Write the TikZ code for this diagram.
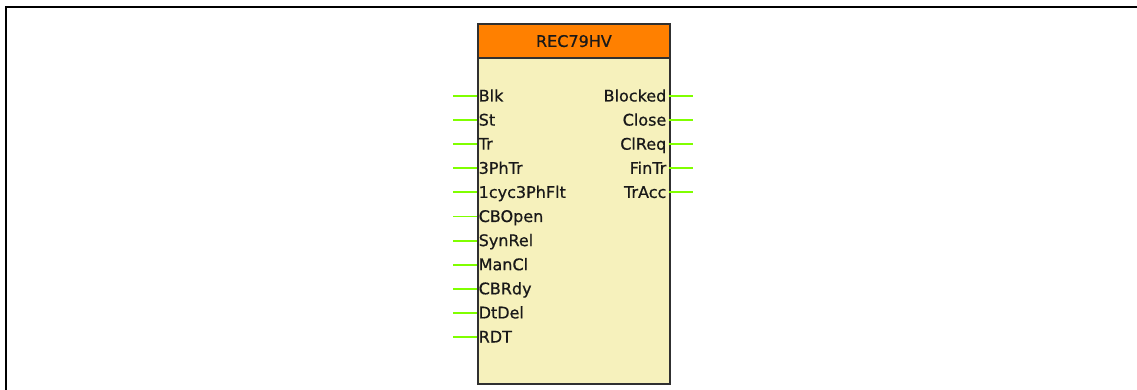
\documentclass[tikz,border=0pt]{standalone}
\usepackage{fontspec}
\setmainfont{DejaVu Sans}
\newfontfamily\lblfont[FakeBold=0.6]{DejaVu Sans}
\definecolor{hdr}{HTML}{FF8000}
\definecolor{bodyc}{HTML}{F6F1BC}
\definecolor{pin}{HTML}{80FF00}
\definecolor{edge}{HTML}{303030}
\begin{document}
\begin{tikzpicture}[x=1pt,y=-1pt,
  pinline/.style={draw=pin,line width=1.9pt},
  lbl/.style={inner sep=0pt,text=black!90,font=\lblfont\fontsize{16}{18}\selectfont},
  frameline/.style={draw=black,line width=2.2pt}]
\useasboundingbox (0,0) rectangle (1137,390);
% outer frame (top and left)
\coordinate (fA) at (6,400);
\coordinate (fB) at (6,7);
\coordinate (fC) at (1140,7);
\draw[frameline] (fA) -- (fB) -- (fC);
% block
\node[draw=edge,line width=1.8pt,fill=bodyc,minimum width=192pt,minimum height=360pt,inner sep=0pt,anchor=north west] (blk) at (477,23) {};
\node[draw=edge,line width=1.8pt,fill=hdr,minimum width=192pt,minimum height=34pt,inner sep=0pt,anchor=north west] (hd) at (477,23) {};
\node[lbl,anchor=base] (title) at ([yshift=-6pt]hd.center) {REC79HV};
% inputs
\foreach \t [count=\i from 0] in {Blk,St,Tr,3PhTr,1cyc3PhFlt,CBOpen,SynRel,ManCl,CBRdy,DtDel,RDT}{
  \coordinate (ip\i) at (453,96+24.1*\i);
  \coordinate (ie\i) at (477,96+24.1*\i);
  \draw[pinline] (ip\i) -- (ie\i);
  \node[lbl,anchor=base west] (in\i) at (478.5,101.5+24.1*\i) {\t};
}
% outputs
\foreach \t [count=\i from 0] in {Blocked,Close,ClReq,FinTr,TrAcc}{
  \coordinate (oe\i) at (669,96+24.1*\i);
  \coordinate (op\i) at (693,96+24.1*\i);
  \draw[pinline] (oe\i) -- (op\i);
  \node[lbl,anchor=base east] (out\i) at (666.5,101.5+24.1*\i) {\t};
}
\end{tikzpicture}
\end{document}
